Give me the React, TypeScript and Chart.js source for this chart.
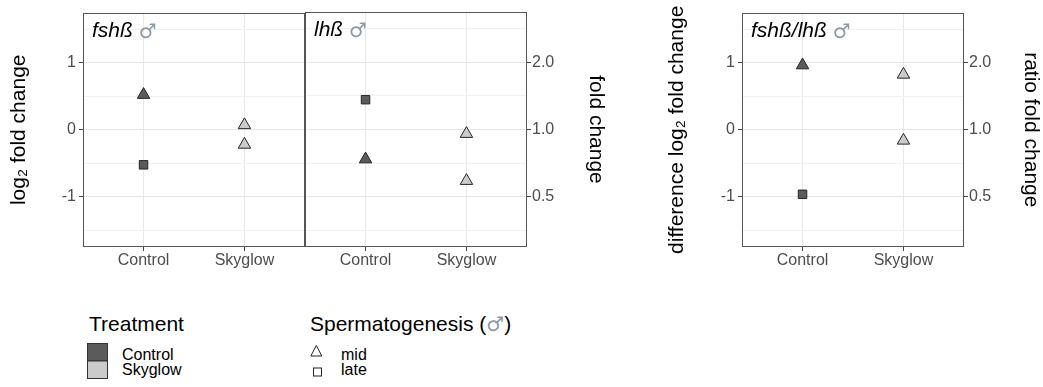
import React, { useEffect, useRef } from "react";
import { Chart, registerables } from "chart.js";

Chart.register(...registerables);

// ---------- data ----------
const categories = ["Control", "Skyglow"];
const treatments = ["Control", "Control", "Skyglow", "Skyglow"];
const stages = ["mid", "late", "mid", "mid"];
const fshValues = [0.523, -0.523, 0.071, -0.221];
const lhValues = [-0.443, 0.444, -0.764, -0.064];
const ratioValues = [0.964, -0.963, 0.825, -0.16];
const log2Ticks = [-1, 0, 1];
const log2Minor = [-1.5, -0.5, 0.5, 1.5];
const foldTickLabels = ["0.5", "1.0", "2.0"];
const yRange = [-1.75, 1.75];
const xRange = [-0.6, 1.6];
const panelTitles = ["fshß", "lhß", "fshß/lhß"];
const treatmentLegend = ["Control", "Skyglow"];
const stageLegend = ["mid", "late"];

// ---------- styles ----------
const FONT = '"Liberation Sans", Arial, sans-serif';
const SYMBOL_FONT = '"DejaVu Sans", "Noto Sans", sans-serif';
const fillColors: Record<string, string> = { Control: "#5b5b5b", Skyglow: "#cbcbcb" };
const shapes: Record<string, string> = { mid: "triangle", late: "rect" };
const radii: Record<string, number> = { mid: 7.2, late: 6 };
const MALE_GREY = "#8d99a6";

const panelPlugin = {
  id: "panelDecor",
  afterDraw(chart: any, _args: any, opts: any) {
    const { ctx, chartArea } = chart;
    const { left, top, right, bottom } = chartArea;
    ctx.save();
    ctx.strokeStyle = "#555555";
    ctx.lineWidth = 1;
    ctx.strokeRect(
      Math.round(left) + 0.5,
      Math.round(top) + 0.5,
      Math.round(right - left) - 1,
      Math.round(bottom - top) - 1
    );
    ctx.textAlign = "left";
    ctx.textBaseline = "alphabetic";
    ctx.font = `italic 21px ${FONT}`;
    ctx.fillStyle = "#000000";
    const x = left + 9;
    const y = top + 24;
    ctx.fillText(opts.label, x, y);
    const w = ctx.measureText(opts.label + " ").width;
    ctx.font = `20px ${SYMBOL_FONT}`;
    ctx.fillStyle = MALE_GREY;
    ctx.fillText("\u2642", x + w, y + 1);
    ctx.restore();
  },
};

type AxisSpec = { width: number; title: string; titlePad: number; grid: boolean; labels: "log2" | "fold" };
type PanelSpec = {
  values: number[];
  label: string;
  canvasLeft: number;
  canvasWidth: number;
  leftAxis: AxisSpec | null;
  rightAxis: AxisSpec | null;
  padLeft: number;
  padRight: number;
};

const CANVAS_H = 290;
const PANEL_TOP = 12;
const PANEL_BOTTOM = 247;

function yAxis(spec: AxisSpec, position: "left" | "right") {
  const isMajor = (v: number) => log2Ticks.includes(v);
  return {
    type: "linear",
    position,
    min: yRange[0],
    max: yRange[1],
    afterBuildTicks: (s: any) => {
      const vals = spec.grid ? [...log2Ticks, ...log2Minor] : [...log2Ticks];
      s.ticks = vals.sort((a, b) => a - b).map((v) => ({ value: v }));
    },
    afterFit: (s: any) => {
      s.width = spec.width;
    },
    ticks: {
      autoSkip: false,
      padding: position === "left" ? 3 : 1,
      color: "#4d4d4d",
      font: { family: FONT, size: 16 },
      callback: (v: number) => {
        const i = log2Ticks.indexOf(v);
        if (i < 0) return "";
        return spec.labels === "log2" ? String(v) : foldTickLabels[i];
      },
    },
    grid: {
      drawOnChartArea: spec.grid,
      drawTicks: true,
      tickLength: 4,
      lineWidth: 1,
      color: (c: any) => (c.tick && isMajor(c.tick.value) ? "#e6e6e6" : "#f1f1f1"),
      tickColor: (c: any) => (c.tick && isMajor(c.tick.value) ? "#444444" : "rgba(0,0,0,0)"),
    },
    border: { display: false },
    title: {
      display: true,
      text: spec.title,
      color: "#000000",
      font: { family: FONT, size: 21 },
      padding: { top: spec.titlePad, bottom: 0 },
    },
  };
}

function makeConfig(p: PanelSpec): any {
  const scales: any = {
    x: {
      type: "linear",
      min: xRange[0],
      max: xRange[1],
      afterBuildTicks: (s: any) => {
        s.ticks = categories.map((_, i) => ({ value: i }));
      },
      afterFit: (s: any) => {
        s.height = CANVAS_H - PANEL_BOTTOM;
      },
      ticks: {
        autoSkip: false,
        maxRotation: 0,
        padding: 0,
        color: "#4d4d4d",
        font: { family: FONT, size: 16 },
        callback: (v: number) => categories[v] ?? "",
      },
      grid: { color: "#e8e8e8", tickColor: "#444444", tickLength: 4, lineWidth: 1 },
      border: { display: false },
    },
  };
  if (p.leftAxis) scales.y = yAxis(p.leftAxis, "left");
  if (p.rightAxis) scales.y2 = yAxis(p.rightAxis, "right");
  const yAxisID = p.leftAxis ? "y" : "y2";

  return {
    type: "scatter",
    data: {
      datasets: [
        {
          yAxisID,
          data: p.values.map((v, i) => ({ x: categories.indexOf(treatments[i]), y: v })),
          pointStyle: stages.map((s) => shapes[s]),
          pointRadius: stages.map((s) => radii[s]),
          pointHoverRadius: stages.map((s) => radii[s]),
          pointBackgroundColor: treatments.map((t) => fillColors[t]),
          pointBorderColor: "#262626",
          pointBorderWidth: 1,
          showLine: false,
        },
      ],
    },
    options: {
      animation: false,
      responsive: false,
      maintainAspectRatio: false,
      devicePixelRatio: 1,
      events: [],
      layout: {
        autoPadding: false,
        padding: { top: PANEL_TOP, left: p.padLeft, right: p.padRight, bottom: 0 },
      },
      scales,
      plugins: {
        legend: { display: false },
        tooltip: { enabled: false },
        title: { display: false },
        panelDecor: { label: p.label },
      },
    },
    plugins: [panelPlugin],
  };
}

const panels: PanelSpec[] = [
  {
    values: fshValues,
    label: panelTitles[0],
    canvasLeft: 0,
    canvasWidth: 310,
    leftAxis: { width: 83, title: "log\u2082 fold change", titlePad: 7, grid: true, labels: "log2" },
    rightAxis: null,
    padLeft: 0,
    padRight: 5,
  },
  {
    values: lhValues,
    label: panelTitles[1],
    canvasLeft: 300,
    canvasWidth: 320,
    leftAxis: null,
    rightAxis: { width: 93, title: "fold change", titlePad: 12, grid: true, labels: "fold" },
    padLeft: 5,
    padRight: 0,
  },
  {
    values: ratioValues,
    label: panelTitles[2],
    canvasLeft: 650,
    canvasWidth: 393,
    leftAxis: { width: 92, title: "difference log\u2082 fold change", titlePad: 15, grid: true, labels: "log2" },
    rightAxis: { width: 79, title: "ratio fold change", titlePad: 0, grid: false, labels: "fold" },
    padLeft: 0,
    padRight: 0,
  },
];

function Panel({ spec }: { spec: PanelSpec }) {
  const ref = useRef<HTMLCanvasElement | null>(null);
  useEffect(() => {
    if (!ref.current) return;
    const chart = new Chart(ref.current, makeConfig(spec));
    return () => chart.destroy();
  }, [spec]);
  return (
    <canvas
      ref={ref}
      width={spec.canvasWidth}
      height={CANVAS_H}
      style={{
        position: "absolute",
        left: spec.canvasLeft,
        top: 0,
        width: spec.canvasWidth,
        height: CANVAS_H,
        display: "block",
      }}
    />
  );
}

const abs = (left: number, top: number, size: number, lh: number): React.CSSProperties => ({
  position: "absolute",
  left,
  top,
  fontSize: size,
  lineHeight: `${lh}px`,
  whiteSpace: "nowrap",
  color: "#000",
});

export default function App() {
  return (
    <div
      style={{
        position: "absolute",
        left: 0,
        top: 0,
        width: 1043,
        height: 387,
        background: "#ffffff",
        fontFamily: FONT,
        overflow: "hidden",
      }}
    >
      {panels.map((p, i) => (
        <Panel key={i} spec={p} />
      ))}

      {/* legend: Treatment */}
      <div style={abs(89, 312, 21, 24)}>Treatment</div>
      <svg
        width={60}
        height={45}
        style={{ position: "absolute", left: 80, top: 338 }}
        viewBox="80 338 60 45"
      >
        <rect x={87.5} y={343.5} width={20} height={17.5} fill={fillColors.Control} stroke="#333" strokeWidth={1} />
        <rect x={87.5} y={361} width={20} height={17.5} fill={fillColors.Skyglow} stroke="#333" strokeWidth={1} />
      </svg>
      <div style={abs(122, 346.3, 16, 18)}>{treatmentLegend[0]}</div>
      <div style={abs(122, 361.3, 16, 18)}>{treatmentLegend[1]}</div>

      {/* legend: Spermatogenesis */}
      <div style={abs(310, 312, 21, 24)}>
        Spermatogenesis (
        <span style={{ color: MALE_GREY, fontFamily: SYMBOL_FONT, fontSize: 20 }}>{"\u2642"}</span>)
      </div>
      <svg
        width={30}
        height={45}
        style={{ position: "absolute", left: 305, top: 338 }}
        viewBox="305 338 30 45"
      >
        <polygon points="316.3,345.5 321.8,356 310.8,356" fill="none" stroke="#222" strokeWidth={1} />
        <rect x={313.5} y={368} width={8} height={8} fill="none" stroke="#222" strokeWidth={1} />
      </svg>
      <div style={abs(341, 346.3, 16, 18)}>{stageLegend[0]}</div>
      <div style={abs(341, 361.3, 16, 18)}>{stageLegend[1]}</div>
    </div>
  );
}
